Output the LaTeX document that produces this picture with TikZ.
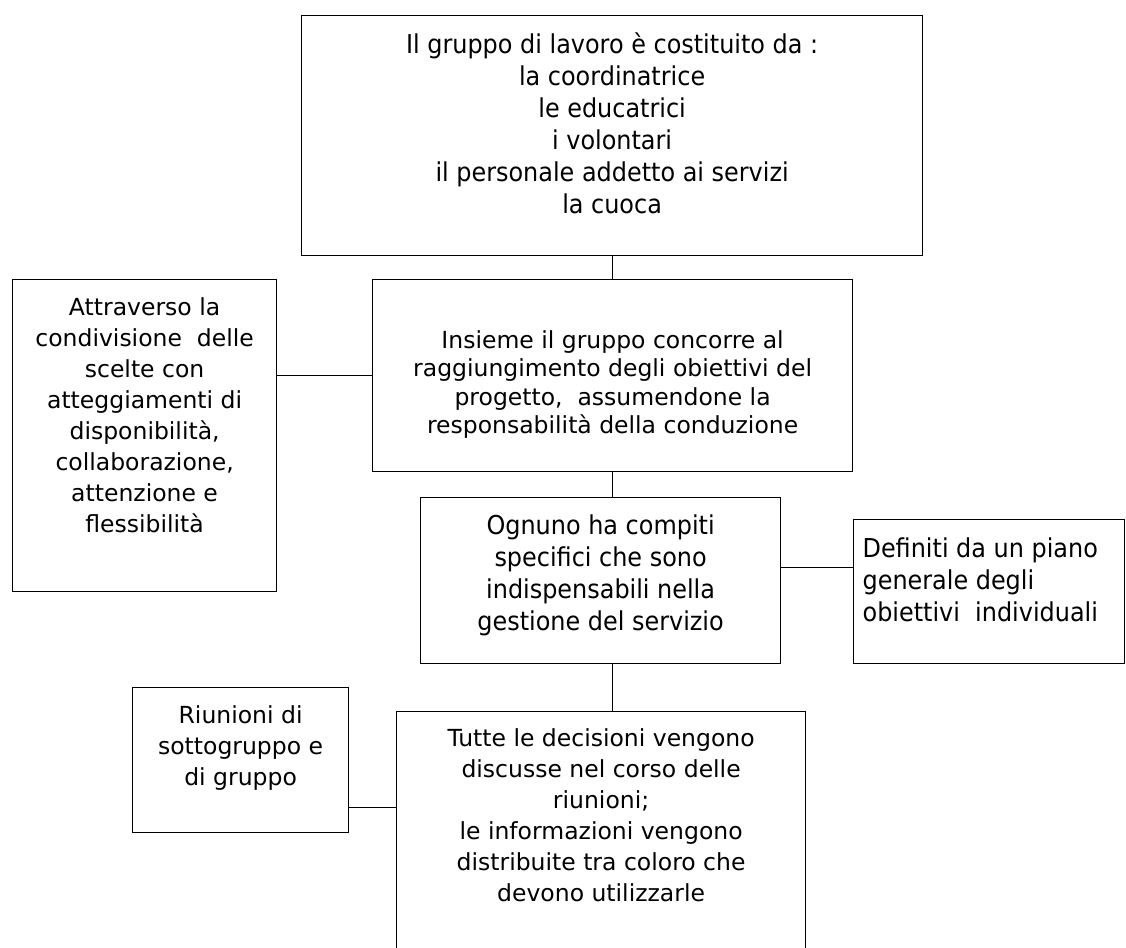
\documentclass[tikz,border=0pt]{standalone}
\usepackage{fontspec}
\setmainfont{DejaVu Sans}
\newfontfamily\narrowfont[FakeStretch=0.92]{DejaVu Sans}

\newcommand{\cella}[4]{\parbox[b][#2][t]{#1}{\centering\vspace*{#3}#4\par}}

\begin{document}
\begin{tikzpicture}[x=1pt,y=-1pt,
  box/.style={draw,line width=1.2pt,inner sep=0pt,anchor=north west},
  wide/.style={font=\fontsize{23.5}{31}\selectfont},
  narrow/.style={font=\narrowfont\fontsize{26}{32}\selectfont},
  link/.style={line width=1.2pt}]
\clip (0,0) rectangle (1126,947);

\node[box,narrow] (gruppo) at (301,15) {\cella{621pt}{240pt}{17pt}{Il gruppo di lavoro è costituito da :\\ la coordinatrice\\ le educatrici\\ i volontari\\ il personale addetto ai servizi\\ la cuoca}};

\node[box,wide] (attraverso) at (12,279) {\cella{264pt}{312pt}{18pt}{Attraverso la\\ condivisione\ \ delle\\ scelte con\\ atteggiamenti di\\ disponibilità,\\ collaborazione,\\ attenzione e\\ flessibilità}};
\node[box,font=\fontsize{23.5}{28.5}\selectfont] (insieme) at (372,279) {\cella{480pt}{192pt}{51pt}{Insieme il gruppo concorre al\\ raggiungimento degli obiettivi del\\ progetto,\ \ assumendone la\\ responsabilità della conduzione}};

\node[box,narrow] (ognuno) at (420,497) {\cella{360pt}{166pt}{17pt}{Ognuno ha compiti\\ specifici che sono\\ indispensabili nella\\ gestione del servizio}};
\node[box,narrow] (definiti) at (853,519) {\parbox[b][144pt][t]{271pt}{\raggedright\leftskip=9pt\vspace*{18pt}Definiti da un piano\\ generale degli\\ obiettivi\ \ individuali\par}};

\node[box,wide] (riunioni) at (132,687) {\cella{216pt}{145pt}{18pt}{Riunioni di\\ sottogruppo e\\ di gruppo}};
\node[box,wide] (decisioni) at (396,711) {\cella{409pt}{260pt}{17pt}{Tutte le decisioni vengono\\ discusse nel corso delle\\ riunioni;\\ le informazioni vengono\\ distribuite tra coloro che\\ devono utilizzarle}};

% collegamenti
\draw[link] (insieme.north) -- (insieme.north |- gruppo.south);
\draw[link] (attraverso.east |- insieme.west) -- (insieme.west);
\draw[link] (insieme.south) -- (insieme.south |- ognuno.north);
\draw[link] ([yshift=24pt]definiti.west) -- ([yshift=24pt]definiti.west -| ognuno.east);
\draw[link] (insieme.south |- ognuno.south) -- (insieme.south |- decisioni.north);
\draw[link] ([yshift=-47.5pt]riunioni.east) -- ([yshift=-47.5pt]riunioni.east -| decisioni.west);
\end{tikzpicture}
\end{document}
